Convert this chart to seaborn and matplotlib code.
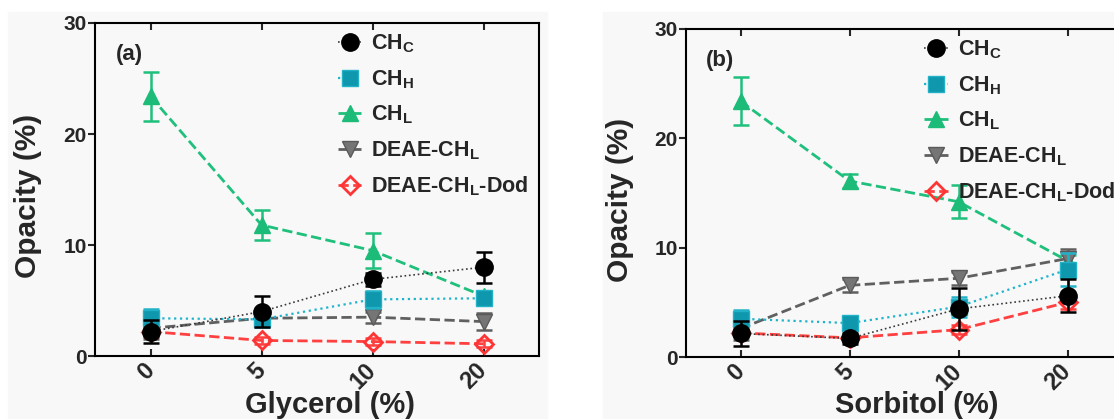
import numpy as np
import pandas as pd
import matplotlib
matplotlib.use("Agg")
import matplotlib.pyplot as plt
import seaborn as sns
from matplotlib.patches import Rectangle

# ---------------- data ----------------
levels = ["0", "5", "10", "20"]
series_keys = ["CHC", "CHH", "CHL", "DEAE", "DOD"]
series_labels = [r"CH$_\mathrm{C}$", r"CH$_\mathrm{H}$", r"CH$_\mathrm{L}$",
                 r"DEAE-CH$_\mathrm{L}$", r"DEAE-CH$_\mathrm{L}$-Dod"]

# Panel (a) Glycerol
gly_chc = [2.2, 4.0, 6.9, 8.0]
gly_chc_err = [1.0, 1.4, 0.6, 1.4]
gly_chh = [3.4, 3.3, 5.1, 5.2]
gly_chh_err = [0.8, 0.7, 0.8, 0.6]
gly_chl = [23.4, 11.8, 9.5, 5.4]
gly_chl_err = [2.2, 1.35, 1.6, 0.3]
gly_deae = [2.5, 3.4, 3.5, 3.1]
gly_deae_err = [1.0, 0.6, 0.5, 0.8]
gly_dod = [2.2, 1.4, 1.3, 1.1]
gly_dod_err = [0.5, 0.3, 0.3, 0.3]

# Panel (b) Sorbitol
sor_chc = [2.15, 1.7, 4.4, 5.6]
sor_chc_err = [1.1, 0.5, 1.9, 1.5]
sor_chh = [3.5, 3.1, 4.6, 8.0]
sor_chh_err = [0.8, 0.4, 0.9, 1.5]
sor_chl = [23.4, 16.1, 14.2, 8.8]
sor_chl_err = [2.2, 0.6, 1.5, 0.5]
sor_deae = [2.6, 6.55, 7.2, 9.0]
sor_deae_err = [1.0, 0.6, 0.6, 0.9]
sor_dod = [2.2, 1.75, 2.5, 5.0]
sor_dod_err = [0.3, 0.3, 0.4, 0.6]

panels = [
    ("(a)", "Glycerol (%)",
     [gly_chc, gly_chh, gly_chl, gly_deae, gly_dod],
     [gly_chc_err, gly_chh_err, gly_chl_err, gly_deae_err, gly_dod_err]),
    ("(b)", "Sorbitol (%)",
     [sor_chc, sor_chh, sor_chl, sor_deae, sor_dod],
     [sor_chc_err, sor_chh_err, sor_chl_err, sor_deae_err, sor_dod_err]),
]

styles = {
    "CHC": dict(color="#3a3a3a", marker="o", ms=12.5, mfc="black", mec="black",
                ls=":", lw=1.2, ecolor="black", z=6),
    "CHH": dict(color="#1fb3cc", marker="s", ms=11, mfc="#0e97ad", mec="#22b2c8",
                ls=":", lw=1.6, ecolor="#22b2c8", z=5),
    "CHL": dict(color="#1fbf7c", marker="^", ms=12, mfc="#1dbb78", mec="#1dbb78",
                ls="--", lw=2.0, ecolor="#1fbf7c", z=3),
    "DEAE": dict(color="#606060", marker="v", ms=12, mfc="#757575", mec="#5a5a5a",
                 ls="--", lw=2.0, ecolor="#606060", z=4),
    "DOD": dict(color="#ff4040", marker="D", ms=9, mfc="none", mec="#ff3535",
                ls="--", lw=2.0, ecolor="#ff4040", z=4),
}

# ---------------- style ----------------
sns.set_style("ticks")
plt.rcParams["font.family"] = ["Liberation Sans", "DejaVu Sans"]
plt.rcParams["font.weight"] = "bold"
plt.rcParams["axes.labelweight"] = "bold"
plt.rcParams["mathtext.fontset"] = "custom"
plt.rcParams["mathtext.rm"] = "Liberation Sans:bold"
plt.rcParams["mathtext.it"] = "Liberation Sans:bold"
plt.rcParams["mathtext.bf"] = "Liberation Sans:bold"

W, H = 1114, 419
fig = plt.figure(figsize=(W / 100, H / 100), dpi=100)
fig.patch.set_facecolor("white")
bg = "#f8f8f8"
fig.patches.append(Rectangle((8 / W, 0), (547 - 8) / W, (419 - 12) / H,
                             transform=fig.transFigure, color=bg, zorder=-10))
fig.patches.append(Rectangle((603 / W, 0), (W - 603) / W, (419 - 12) / H,
                             transform=fig.transFigure, color=bg, zorder=-10))

axes_rects = [
    [95 / W, (H - 356) / H, 444 / W, 333 / H],
    [686 / W, (H - 357) / H, 436 / W, 328 / H],
]
legend_anchor = [(0.532, 0.99), (0.532, 0.99)]

for (tag, xlabel, vals, errs), rect, anc in zip(panels, axes_rects, legend_anchor):
    ax = fig.add_axes(rect)
    ax.set_zorder(1)
    ax.set_facecolor(bg)
    pos = np.arange(len(levels))
    handles = []
    for key, lab, v, e in zip(series_keys, series_labels, vals, errs):
        st = styles[key]
        df = pd.DataFrame({"pos": pos, "value": v})
        ax.errorbar(pos, v, yerr=e, fmt="none", ecolor=st["ecolor"],
                    elinewidth=1.8, capsize=6, capthick=1.8, zorder=st["z"] - 0.5)
        sns.lineplot(data=df, x="pos", y="value", ax=ax, color=st["color"],
                     marker=st["marker"], markersize=st["ms"],
                     markerfacecolor=st["mfc"], markeredgecolor=st["mec"],
                     markeredgewidth=2 if key == "DOD" else 1,
                     linestyle=st["ls"], linewidth=st["lw"], errorbar=None,
                     zorder=st["z"], label=lab, legend=False)
        handles.append(ax.lines[-1])
    ax.set_xlim(-0.5, 3.5)
    ax.set_ylim(0, 30)
    ax.set_yticks([0, 10, 20, 30])
    ax.set_xticks(pos)
    ax.set_xticklabels(levels, rotation=45, ha="right", va="center",
                       rotation_mode="anchor")
    ax.tick_params(axis="x", direction="in", top=True, length=5, width=1.5,
                   labelsize=17, pad=8)
    ax.tick_params(axis="y", direction="out", length=5, width=1.5,
                   labelsize=15, pad=1)
    for lbl in ax.get_xticklabels() + ax.get_yticklabels():
        lbl.set_fontweight("bold")
    for sp in ax.spines.values():
        sp.set_visible(True)
        sp.set_linewidth(1.5)
        sp.set_color("black")
    ax.set_xlabel(xlabel, fontsize=21, fontweight="bold")
    ax.set_ylabel("Opacity (%)", fontsize=21.5, fontweight="bold")
    ax.xaxis.set_label_coords(0.53, -0.147)
    ax.xaxis.label.set_va("center")
    ax.yaxis.set_label_coords(-0.152, 0.48)
    ax.yaxis.label.set_va("center")
    ax.text(0.077, 0.905, tag, transform=ax.transAxes, fontsize=16,
            fontweight="bold", ha="center", va="center")
    leg = ax.legend(handles, series_labels, loc="upper left", bbox_to_anchor=anc,
                    frameon=False, fontsize=15.5, handlelength=1.1,
                    handletextpad=0.45, labelspacing=0.6, borderpad=0.0,
                    borderaxespad=0.3)
    leg.set_zorder(10)

fig.savefig("out.png", dpi=100)
